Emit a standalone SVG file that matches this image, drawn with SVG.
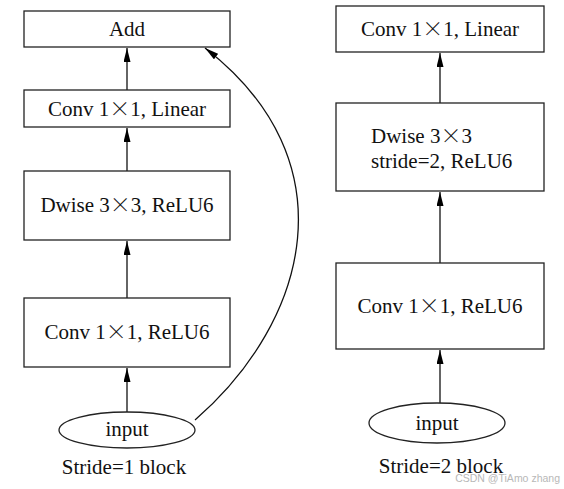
<svg xmlns="http://www.w3.org/2000/svg" width="564" height="489" viewBox="0 0 564 489">
<defs>
<marker id="ah" markerUnits="userSpaceOnUse" markerWidth="15" markerHeight="8" refX="14" refY="3.5" orient="auto">
<path d="M0,0 L14,3.5 L0,7 z" fill="#000"/>
</marker>
<style>
.box{fill:#fff;stroke:#222;stroke-width:1.3}
.t{font-family:"Liberation Serif","Times New Roman",serif;font-size:21px;fill:#111}
.x{font-family:"Noto Sans CJK SC","Liberation Serif",serif;font-weight:300}
.c{text-anchor:middle}
.e{fill:none;stroke:#111;stroke-width:1.3;marker-end:url(#ah)}
</style>
</defs>
<rect width="564" height="489" fill="#fff"/>
<g id="connectors">
<line class="e" x1="127" y1="90" x2="127" y2="48"/>
<line class="e" x1="127" y1="171" x2="127" y2="128"/>
<line class="e" x1="127" y1="298" x2="127" y2="241"/>
<line class="e" x1="127" y1="412" x2="127" y2="368"/>
<path class="e" d="M195,420 C310,320 350,160 205,48"/>
<line class="e" x1="440" y1="103" x2="440" y2="53"/>
<line class="e" x1="440" y1="263" x2="440" y2="192"/>
<line class="e" x1="440" y1="403" x2="440" y2="350"/>
</g>
<g id="add"><rect class="box" x="24" y="11" width="206" height="36"/><text class="t c" x="127" y="36">Add</text></g>
<g id="conv-linear-1"><rect class="box" x="24" y="90" width="206" height="37"/><text class="t c" x="127" y="116">Conv 1<tspan class="x">×</tspan>1, Linear</text></g>
<g id="dwise-1"><rect class="box" x="24" y="171" width="206" height="69"/><text class="t c" x="127" y="212">Dwise 3<tspan class="x">×</tspan>3, ReLU6</text></g>
<g id="conv-relu-1"><rect class="box" x="24" y="298" width="206" height="69"/><text class="t c" x="127" y="339">Conv 1<tspan class="x">×</tspan>1, ReLU6</text></g>
<g id="input-1"><ellipse class="box" cx="127" cy="430" rx="68" ry="18"/><text class="t c" x="127" y="436">input</text></g>
<text class="t c" x="124" y="474">Stride=1 block</text>
<g id="conv-linear-2"><rect class="box" x="336" y="6" width="208" height="46"/><text class="t c" x="440" y="36">Conv 1<tspan class="x">×</tspan>1, Linear</text></g>
<g id="dwise-2"><rect class="box" x="336" y="103" width="208" height="88"/><text class="t" x="371" y="143">Dwise 3<tspan class="x">×</tspan>3</text><text class="t" x="371" y="168">stride=2, ReLU6</text></g>
<g id="conv-relu-2"><rect class="box" x="336" y="263" width="208" height="86"/><text class="t c" x="440" y="313">Conv 1<tspan class="x">×</tspan>1, ReLU6</text></g>
<g id="input-2"><ellipse class="box" cx="437" cy="423" rx="68" ry="20"/><text class="t c" x="437" y="430">input</text></g>
<text class="t c" x="441" y="473">Stride=2 block</text>
<text x="560" y="482" text-anchor="end" font-family="Liberation Sans, Arial, sans-serif" font-size="10.5" fill="#b8b8b8">CSDN @TiAmo zhang</text>
</svg>
